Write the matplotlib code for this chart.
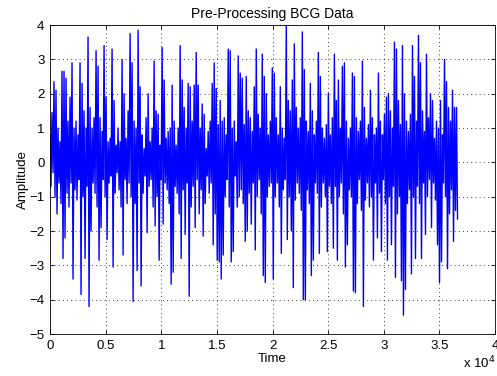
import numpy as np
import matplotlib
matplotlib.use("Agg")
import matplotlib.pyplot as plt
from matplotlib.ticker import MultipleLocator, FuncFormatter

# BCG samples, read off the picture as alternating upper / lower swings
# (one pair every 180 samples)
sample_step = 90
upper = [
    0.8, 1.45, 2.35, 2.1, 1.0, 0.6, 2.65, 2.65, 2.45, 1.2,
    1.9, 2.9, 1.0, 1.2, 0.8, 2.9, 2.3, 1.5, 1.0, 3.65,
    1.6, 1.0, 1.3, 3.25, 2.8, 1.3, 0.9, 3.4, 1.9, 0.6,
    0.7, 3.3, 1.8, 0.5, 1.0, 0.6, 3.0, 2.0, 0.7, 1.5,
    3.75, 2.9, 1.2, 1.0, 3.85, 2.2, 0.8, 0.4, 1.3, 2.0,
    0.6, 1.0, 2.95, 1.5, 1.4, 0.5, 3.35, 2.4, 0.7, 0.9,
    1.0, 2.25, 1.2, 0.5, 1.0, 3.4, 2.4, 1.6, 1.0, 2.3,
    2.2, 1.2, 2.25, 3.2, 2.25, 1.0, 1.7, 1.4, 0.4, 0.9,
    1.2, 2.3, 2.9, 2.15, 1.1, 1.8, 1.2, 1.3, 0.8, 3.3,
    3.25, 1.0, 1.2, 0.6, 3.1, 2.6, 2.45, 1.1, 2.5, 1.5,
    1.3, 0.9, 2.2, 3.3, 1.4, 1.0, 3.15, 2.5, 2.0, 0.8,
    1.2, 2.75, 2.6, 1.3, 0.8, 2.2, 1.0, 0.7, 4.0, 1.8,
    1.5, 2.4, 3.45, 1.6, 1.0, 1.3, 3.8, 2.7, 1.2, 0.9,
    2.3, 1.5, 0.8, 1.2, 3.2, 2.5, 1.0, 0.7, 1.1, 2.0,
    0.8, 1.3, 3.15, 1.8, 2.4, 1.0, 2.8, 2.9, 1.2, 0.7,
    1.0, 2.6, 2.5, 1.3, 0.9, 1.2, 2.95, 1.6, 0.7, 1.1,
    2.1, 1.3, 0.8, 1.0, 2.6, 1.2, 0.8, 1.4, 1.9, 2.0,
    1.5, 1.0, 3.5, 3.3, 1.8, 1.1, 3.4, 2.0, 1.2, 0.9,
    1.4, 3.4, 2.5, 1.2, 3.7, 2.9, 1.5, 0.9, 3.15, 1.3,
    2.0, 1.8, 0.7, 1.2, 1.0, 1.8, 0.8, 3.0, 2.35, 1.6,
    1.2, 2.1, 1.6, 1.6,
]
lower = [
    -0.7, -0.3, -1.0, -1.5, -0.6, -1.2, -2.8, -2.2, -0.9, -1.3,
    -0.6, -3.4, -0.8, -1.1, -0.5, -3.85, -1.0, -2.8, -0.7, -4.2,
    -2.0, -0.6, -0.9, -1.3, -2.85, -1.9, -0.5, -1.0, -2.25, -0.6,
    -0.4, -3.05, -0.9, -0.3, -0.8, -1.3, -2.7, -0.5, -1.2, -0.6,
    -1.0, -4.05, -1.2, -3.15, -0.6, -3.6, -0.9, -0.4, -2.05, -0.7,
    -0.5, -1.3, -1.85, -1.0, -2.85, -0.5, -1.8, -0.6, -0.8, -1.2,
    -3.55, -3.2, -0.7, -0.9, -1.5, -2.8, -0.8, -2.1, -0.6, -3.9,
    -1.3, -0.7, -1.9, -0.5, -1.5, -0.8, -2.15, -1.2, -0.4, -0.9,
    -0.6, -2.4, -1.5, -2.85, -2.9, -3.4, -2.7, -1.0, -0.5, -1.3,
    -2.9, -2.6, -0.4, -1.3, -1.0, -0.8, -1.2, -2.3, -2.0, -0.9,
    -1.8, -0.6, -2.55, -1.0, -0.5, -1.5, -3.3, -3.5, -1.0, -0.7,
    -0.6, -3.4, -1.0, -0.6, -1.3, -2.65, -0.8, -0.5, -2.25, -1.0,
    -2.0, -3.65, -1.1, -0.6, -0.9, -1.4, -4.0, -4.0, -0.8, -1.2,
    -3.3, -2.85, -0.6, -0.9, -2.65, -1.3, -0.6, -1.0, -2.6, -0.7,
    -1.2, -2.5, -0.7, -2.85, -1.0, -0.6, -1.5, -3.05, -2.4, -0.8,
    -1.0, -3.75, -3.8, -1.2, -0.5, -1.4, -4.2, -1.1, -0.6, -1.3,
    -1.0, -2.85, -0.6, -2.2, -0.9, -2.6, -0.5, -1.2, -2.85, -1.0,
    -2.4, -0.7, -3.35, -1.5, -1.0, -3.45, -4.45, -3.7, -1.2, -0.8,
    -3.25, -1.0, -2.8, -0.7, -1.2, -2.8, -0.6, -2.1, -1.0, -0.5,
    -1.9, -0.6, -1.1, -2.4, -3.5, -2.9, -0.6, -1.0, -3.1, -1.5,
    -0.8, -2.3, -1.4, -1.65,
]

amplitude = np.ravel(np.column_stack([upper, lower]))
time = np.arange(len(amplitude)) * sample_step

plt.rcParams['font.family'] = ['Liberation Sans', 'DejaVu Sans']

fig = plt.figure(figsize=(4.97, 3.76), dpi=100)
ax = fig.add_axes([0.1006, 0.1117, 0.8954, 0.8218])
ax.plot(time, amplitude, color=(0, 0, 1), linewidth=1.0)

ax.set_xlim(0, 40000)
ax.set_ylim(-5, 4)
ax.xaxis.set_major_locator(MultipleLocator(5000))
ax.xaxis.set_major_formatter(FuncFormatter(lambda v, p: f"{v / 1e4:g}"))
ax.yaxis.set_major_locator(MultipleLocator(1))
ax.grid(True, color='black', linestyle=(0, (1, 4)), linewidth=0.6)
ax.tick_params(direction='in', top=True, right=True, length=3, width=0.6,
               labelsize=9.5, colors='black', pad=4)
for s in ax.spines.values():
    s.set_linewidth(0.6)

ax.set_title('Pre-Processing BCG Data', fontsize=10, pad=5)
ax.set_xlabel('Time', fontsize=9.5, labelpad=1)
ax.set_ylabel('Amplitude', fontsize=9.5, labelpad=0)
fig.text(0.932, 0.012, r'x 10$^4$', fontsize=9.5, ha='left', va='bottom')

fig.savefig('out.png', dpi=100)
